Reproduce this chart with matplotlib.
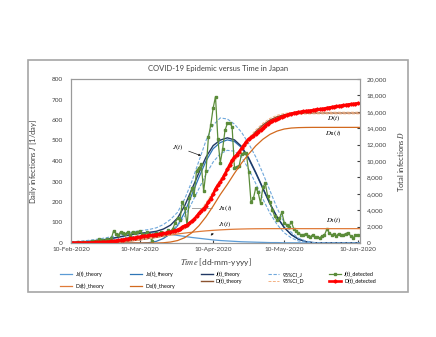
import numpy as np
import matplotlib
matplotlib.use('Agg')
import matplotlib.pyplot as plt
from matplotlib.patches import Rectangle
from matplotlib.ticker import FuncFormatter, MultipleLocator
import matplotlib.dates as mdates

plt.rcParams['font.family'] = ['Lato', 'DejaVu Sans']
plt.rcParams['mathtext.fontset'] = 'stix'

start = np.datetime64('2020-02-10')
end = np.datetime64('2020-06-11')

# detected, one value per day from 10-Feb-2020
J_detected = [2, 1, 0, 3, 1, 3, 5, 2, 3, 8,
              10, 12, 18, 15, 12, 20, 15, 22, 60, 45,
              40, 55, 50, 45, 55, 40, 55, 50, 52, 60,
              45, 40, 55, 45, 12, 40, 50, 45, 55, 40,
              45, 65, 55, 70, 100, 120, 112, 200, 173, 87,
              220, 266, 235, 353, 367, 383, 252, 351, 515, 576,
              658, 714, 507, 391, 457, 549, 583, 585, 568, 368,
              373, 377, 436, 437, 438, 347, 198, 218, 269, 247,
              194, 271, 292, 230, 200, 160, 130, 110, 120, 150,
              100, 90, 80, 104, 70, 60, 50, 40, 40, 45,
              35, 30, 40, 31, 27, 25, 35, 39, 67, 51,
              40, 43, 35, 46, 39, 40, 46, 50, 35, 22,
              39, 41]
D_detected = [30, 32, 33, 36, 38, 41, 46, 48, 51, 59,
              69, 81, 99, 114, 126, 146, 161, 183, 240, 280,
              320, 370, 415, 460, 510, 555, 605, 650, 700, 755,
              800, 840, 890, 930, 945, 985, 1030, 1075, 1125, 1165,
              1220, 1285, 1340, 1410, 1510, 1630, 1750, 1950, 2120, 2200,
              2420, 2680, 2910, 3260, 3600, 3950, 4180, 4500, 4950, 5400,
              5950, 6600, 7050, 7420, 7900, 8420, 8980, 9540, 10080, 10430,
              10780, 11130, 11540, 11950, 12360, 12690, 12880, 13090, 13350, 13590,
              13780, 14040, 14320, 14540, 14740, 14900, 15030, 15140, 15260, 15410,
              15510, 15600, 15680, 15780, 15850, 15910, 15960, 16000, 16040, 16085,
              16120, 16150, 16190, 16250, 16290, 16320, 16360, 16400, 16470, 16520,
              16570, 16620, 16660, 16710, 16750, 16790, 16840, 16890, 16930, 16955,
              16995, 17040]

# theory curves, read every 3 days from 10-Feb-2020
step = 3
J_I_theory = [3, 4, 6, 9, 13, 18, 24, 31, 38, 44,
              48, 50, 49, 46, 42, 37, 32, 27, 23, 19,
              15, 12, 10, 8, 6, 5, 4, 3, 2, 2,
              1, 1, 1, 0, 0, 0, 0, 0, 0, 0, 0, 0]
J_II_theory = [0, 0, 0, 0, 0, 0, 0, 0, 0, 0,
               0, 2, 8, 22, 45, 85, 150, 235, 320, 400,
               460, 490, 503, 495, 465, 410, 340, 265, 190, 125,
               75, 40, 18, 7, 2, 0, 0, 0, 0, 0, 0, 0]
J_theory = [3, 4, 6, 9, 13, 18, 24, 31, 38, 44,
            48, 52, 57, 68, 87, 122, 182, 262, 343, 419,
            475, 502, 513, 503, 471, 415, 344, 268, 192, 127,
            76, 41, 19, 7, 2, 0, 0, 0, 0, 0, 0, 0]
CI_J_up = [6, 8, 11, 15, 20, 26, 33, 41, 49, 56,
           61, 66, 74, 90, 115, 150, 215, 300, 400, 500,
           575, 610, 605, 580, 540, 485, 420, 340, 255, 170,
           100, 52, 24, 10, 3, 1, 0, 0, 0, 0, 0, 0]
CI_J_lo = [1, 1, 2, 4, 7, 11, 16, 22, 28, 33,
           36, 38, 41, 48, 60, 85, 130, 195, 265, 335,
           395, 435, 452, 448, 420, 360, 290, 215, 145, 90,
           50, 25, 10, 4, 1, 0, 0, 0, 0, 0, 0, 0]
D_I_theory = [0, 5, 12, 25, 45, 75, 115, 170, 240, 330,
              440, 570, 710, 850, 980, 1100, 1210, 1310, 1400, 1480,
              1545, 1600, 1645, 1680, 1705, 1725, 1738, 1745, 1750, 1750,
              1750, 1750, 1750, 1750, 1750, 1750, 1750, 1750, 1750, 1750, 1750, 1750]
D_II_theory = [0, 0, 0, 0, 0, 0, 0, 0, 0, 0,
               0, 0, 0, 30, 120, 300, 650, 1250, 2100, 3200,
               4500, 5900, 7150, 8500, 9750, 10850, 11850, 12650, 13250, 13650,
               13900, 14020, 14070, 14090, 14100, 14100, 14100, 14100, 14100, 14100, 14100, 14100]
D_theory = [0, 5, 12, 25, 45, 75, 115, 170, 240, 330,
            440, 570, 710, 880, 1100, 1400, 1860, 2560, 3500, 4680,
            6045, 7500, 8795, 10180, 11455, 12575, 13588, 14395, 15000, 15400,
            15650, 15770, 15820, 15840, 15850, 15850, 15850, 15850, 15850, 15850, 15850, 15850]
CI_D_up = [0, 8, 18, 35, 60, 95, 140, 200, 275, 370,
           485, 620, 765, 945, 1180, 1500, 1990, 2730, 3700, 4900,
           6280, 7750, 9050, 10420, 11700, 12800, 13800, 14600, 15200, 15580,
           15800, 15900, 15930, 15940, 15950, 15950, 15950, 15950, 15950, 15950, 15950, 15950]
CI_D_lo = [0, 3, 8, 18, 33, 58, 92, 140, 205, 290,
           395, 520, 655, 815, 1020, 1300, 1730, 2390, 3300, 4460,
           5810, 7250, 8540, 9940, 11210, 12350, 13380, 14190, 14800, 15220,
           15500, 15640, 15700, 15730, 15750, 15750, 15750, 15750, 15750, 15750, 15750, 15750]

days = start + np.arange(len(J_detected))
t_th = start + np.arange(len(J_theory)) * step

fig = plt.figure(figsize=(4.36, 3.37), dpi=100)
fig.patches.append(Rectangle((28/436, 1-292/337), 380/436, 232/337, transform=fig.transFigure,
                             fill=False, edgecolor='#a6a6a6', lw=1.2))
ax = fig.add_axes([71/436, 1-243/337, 289/436, 164/337])
ax2 = ax.twinx()

l1, = ax.plot(t_th, J_I_theory, color='#5b9bd5', lw=0.9, label=r'J$_{\rm I}$(t)_theory')
l2, = ax.plot(t_th, J_II_theory, color='#2e75b6', lw=0.9, label=r'J$_{\rm II}$(t)_theory')
l3, = ax.plot(t_th, J_theory, color='#203864', lw=1.0, label='J(t)_theory')
l4, = ax.plot(t_th, CI_J_up, color='#6fa8dc', lw=0.8, ls='--', dashes=(3, 1.5), label='95%CI_J')
ax.plot(t_th, CI_J_lo, color='#6fa8dc', lw=0.8, ls='--', dashes=(3, 1.5))
l5, = ax.plot(days, J_detected, color='#5b8c3a', lw=0.9, marker='s', ms=1.8, label='J(t)_detected')

m1, = ax2.plot(t_th, D_I_theory, color='#e07b39', lw=0.9, label=r'D$_{\rm I}$(t)_theory')
m2, = ax2.plot(t_th, D_II_theory, color='#d2691e', lw=0.9, label=r'D$_{\rm II}$(t)_theory')
m3, = ax2.plot(t_th, D_theory, color='#8b5330', lw=1.0, label='D(t)_theory')
m4, = ax2.plot(t_th, CI_D_up, color='#f4b183', lw=0.7, ls='--', dashes=(3, 1.5), label='95%CI_D')
ax2.plot(t_th, CI_D_lo, color='#f4b183', lw=0.7, ls='--', dashes=(3, 1.5))
m5, = ax2.plot(days, D_detected, color='#ff0000', lw=1.9, marker='D', ms=1.6, label='D(t)_detected')

ax.set_xlim(start, end)
ax.set_ylim(0, 800)
ax2.set_ylim(0, 20000)
ax.yaxis.set_major_locator(MultipleLocator(100))
ax2.yaxis.set_major_locator(MultipleLocator(2000))
ax2.yaxis.set_major_formatter(FuncFormatter(lambda v, p: f'{int(v):,}'))
ax.set_xticks([np.datetime64(d) for d in ['2020-02-10', '2020-03-10', '2020-04-10', '2020-05-10', '2020-06-10']])
ax.xaxis.set_major_formatter(mdates.DateFormatter('%d-%b-%Y'))

for a in (ax, ax2):
    for s in a.spines.values():
        s.set_color('#9a9a9a')
        s.set_linewidth(0.8)
ax.tick_params(axis='y', length=0, labelsize=4.6, colors='#404040', pad=6)
ax.tick_params(axis='x', direction='in', length=2, labelsize=4.6, colors='#404040', pad=3)
ax2.tick_params(axis='y', direction='in', length=2, labelsize=4.6, colors='#404040', pad=5)

ax.set_ylabel(r'Daily infections $J$ [1/day]', fontsize=5.5, color='#404040', labelpad=9)
ax2.set_ylabel(r'Total infections $D$', fontsize=5.5, color='#404040', labelpad=6)
ax.set_xlabel(r'$Time$ [dd-mm-yyyy]', fontsize=6, color='#404040', labelpad=3)
fig.text(0.5, 1-68/337, 'COVID-19 Epidemic versus Time in Japan', ha='center', va='center',
         fontsize=5.5, color='#404040')

arr = dict(arrowstyle='-|>', color='#202020', lw=0.5, mutation_scale=3)
ax.annotate(r'$J(t)$', xy=(start + np.timedelta64(56, 'D'), 421), xytext=(start + np.timedelta64(45, 'D'), 468),
            fontsize=5, ha='center', va='center', arrowprops=arr)
ax.annotate(r'$J_{\rm II}(t)$', xy=(start + np.timedelta64(50, 'D'), 168), xytext=(start + np.timedelta64(62, 'D'), 168),
            fontsize=5, ha='left', va='center', arrowprops=dict(arr, arrowstyle='-', color='#808080'))
ax.annotate(r'$J_{\rm I}(t)$', xy=(start + np.timedelta64(58, 'D'), 28), xytext=(start + np.timedelta64(62, 'D'), 92),
            fontsize=5, ha='left', va='center', arrowprops=arr)
ax2.text(start + np.timedelta64(111, 'D'), 15200, r'$D(t)$', fontsize=5, ha='center', va='center')
ax2.text(start + np.timedelta64(111, 'D'), 13400, r'$D_{\rm II}(t)$', fontsize=5, ha='center', va='center')
ax2.text(start + np.timedelta64(111, 'D'), 2800, r'$D_{\rm I}(t)$', fontsize=5, ha='center', va='center')

handles = [l1, m1, l2, m2, l3, m3, l4, m4, l5, m5]
fig.legend(handles, [h.get_label() for h in handles], ncol=5, loc='center',
           bbox_to_anchor=(0.5, 1-280/337), fontsize=3.8, frameon=False,
           handlelength=2.2, columnspacing=4.8, handletextpad=0.6, labelspacing=0.25)

fig.savefig('out.png', dpi=100)
